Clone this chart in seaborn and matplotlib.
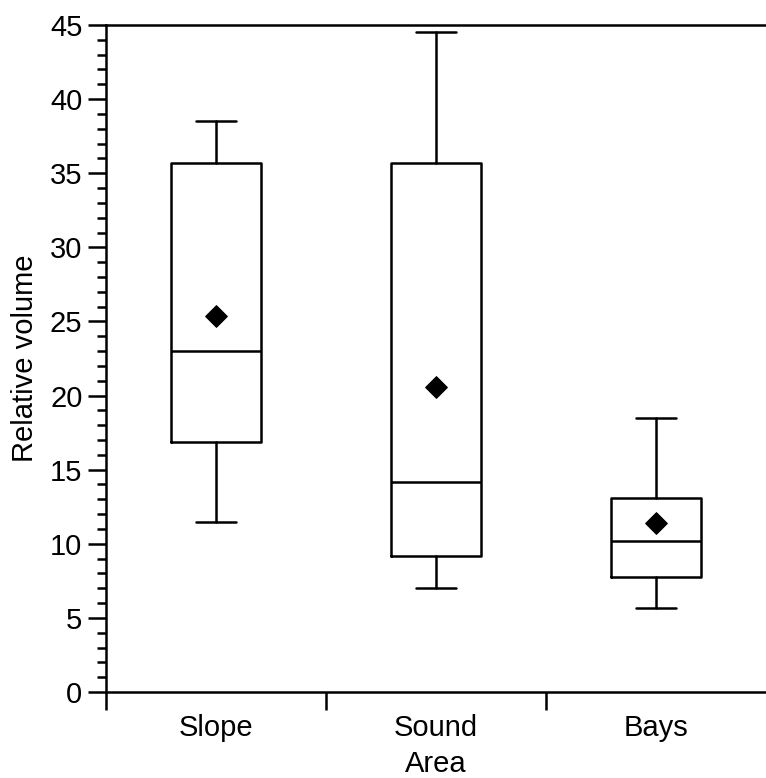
import numpy as np
import pandas as pd
import matplotlib
matplotlib.use('Agg')
import matplotlib.pyplot as plt
import seaborn as sns

# Values
areas = ['Slope', 'Sound\nArea', 'Bays']
whisker_low = [11.5, 7.0, 5.7]
q1 = [16.9, 9.2, 7.75]
median = [23.0, 14.2, 10.2]
q3 = [35.7, 35.7, 13.1]
whisker_high = [38.5, 44.5, 18.5]
means = [25.4, 20.6, 11.4]

sns.set_style('ticks')
plt.rcParams['font.family'] = ['Liberation Sans', 'DejaVu Sans']
plt.rcParams['text.color'] = 'black'
plt.rcParams['axes.labelcolor'] = 'black'
plt.rcParams['xtick.color'] = 'black'
plt.rcParams['ytick.color'] = 'black'

fig = plt.figure(figsize=(7.66, 7.78), dpi=100)
ax = fig.add_axes([106 / 766, 1 - 692 / 778, 1 - 106 / 766, (692 - 25) / 778])

# box statistics for each area
stats = []
for i, name in enumerate(areas):
    stats.append({'label': name, 'whislo': whisker_low[i], 'q1': q1[i],
                  'med': median[i], 'q3': q3[i], 'whishi': whisker_high[i],
                  'fliers': []})

lw = 1.8
ax.bxp(stats, positions=range(len(areas)), widths=0.41, showfliers=False,
       boxprops=dict(color='black', linewidth=lw),
       medianprops=dict(color='black', linewidth=lw),
       whiskerprops=dict(color='black', linewidth=lw),
       capprops=dict(color='black', linewidth=lw),
       capwidths=0.18)

# mean markers
mean_df = pd.DataFrame({'area': range(len(areas)), 'mean': means})
sns.scatterplot(data=mean_df, x='area', y='mean', marker='D', s=120,
                color='black', edgecolor='black', ax=ax, zorder=5)

ax.set_xlim(-0.5, 2.5)
ax.set_ylim(0, 45)

# category labels centered, ticks at the category boundaries
ax.set_xticks([-0.5, 0.5, 1.5])
ax.set_xticklabels([])
ax.set_xticks(range(len(areas)), minor=True)
ax.set_xticklabels(areas, minor=True, fontsize=21, linespacing=1.35)
ax.tick_params(axis='x', which='major', length=13, width=lw, direction='out')
ax.tick_params(axis='x', which='minor', length=0, pad=16)

ax.set_yticks(np.arange(0, 46, 5))
ax.set_yticks(np.arange(0, 46, 1), minor=True)
ax.tick_params(axis='y', which='major', length=13, width=lw, pad=4, labelsize=21)
ax.tick_params(axis='y', which='minor', length=6.5, width=lw)

ax.set_xlabel('')
ax.set_ylabel('Relative volume', fontsize=21, labelpad=8)

for side in ['left', 'bottom', 'top']:
    ax.spines[side].set_linewidth(lw)
    ax.spines[side].set_color('black')
ax.spines['right'].set_visible(False)

fig.savefig('out.png', dpi=100)
